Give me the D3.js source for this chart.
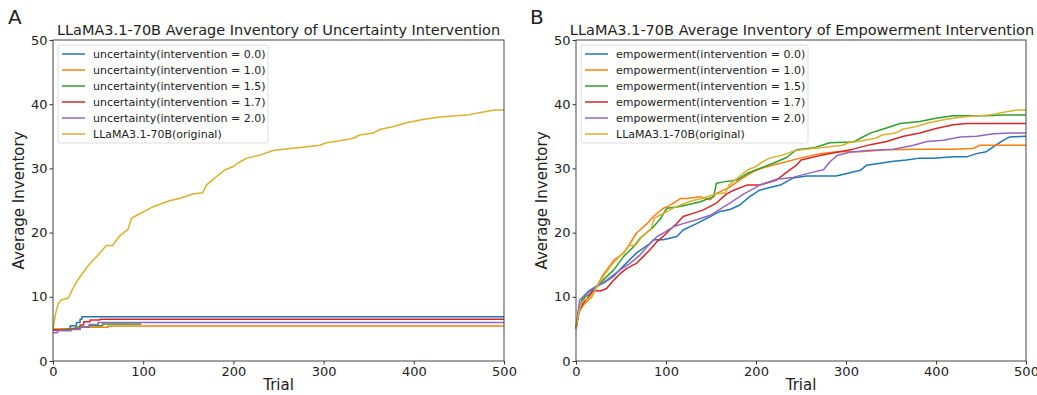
<!DOCTYPE html>
<html>
<head>
<meta charset="utf-8">
<script src="https://cdn.jsdelivr.net/npm/d3@7"></script>
<style>
  body { margin: 0; background: #fff; }
  svg text { font-family: "DejaVu Sans", sans-serif; fill: #222; }
</style>
</head>
<body>
<div id="wrapper"></div>
<script>
// data: [trial, average inventory]
const original = [[0,5],[3,7.5],[6,9],[9,9.5],[17,9.8],[21,11],[26,12.3],[33,13.7],[41,15.2],[52,16.8],[59,18],[66,18],[74,19.5],[83,20.5],[87,22.2],[93,22.7],[104,23.5],[109,23.9],[122,24.6],[130,25],[140,25.3],[155,26],[166,26.2],[170,27.4],[176,28.1],[181,28.7],[191,29.8],[200,30.3],[207,31],[215,31.6],[230,32.1],[244,32.8],[263,33.1],[277,33.3],[296,33.6],[303,34],[318,34.3],[333,34.7],[340,35.2],[355,35.5],[363,36.1],[377,36.5],[392,37.1],[410,37.6],[429,38],[459,38.3],[477,38.8],[490,39.1],[500,39.1]];

const unc00 = [[0,4.9],[10,5.0],[19,5.5],[26,6.0],[30,6.5],[32,6.9],[500,6.9]];
const unc10 = [[0,5.0],[20,5.1],[30,5.25],[61,5.45],[500,5.45]];
const unc15 = [[0,4.8],[15,5.0],[25,5.3],[40,5.5],[55,5.75],[98,5.75]];
const unc17 = [[0,4.8],[20,5.0],[30,5.6],[34,6.1],[41,6.4],[52,6.5],[500,6.5]];
const unc20 = [[0,4.4],[5,4.7],[20,4.9],[30,5.3],[40,5.7],[50,6.0],[500,6.05]];

const emp00 = [[0,5],[3,8],[8,10],[15,11],[22,11.6],[30,12.1],[41,13.1],[52,14.7],[67,16.8],[82,18.3],[86,18.9],[97,18.9],[112,19.4],[119,20.4],[134,21.4],[149,22.5],[160,23.3],[171,23.6],[182,24.3],[193,25.6],[204,26.6],[212,26.9],[227,27.4],[241,28.5],[256,28.8],[289,28.8],[301,29.2],[316,29.7],[323,30.5],[338,30.8],[353,31.1],[367,31.3],[382,31.6],[397,31.6],[419,31.8],[434,31.8],[445,32.3],[456,32.6],[464,33.4],[475,34.4],[482,34.9],[500,35.0]];
const emp10 = [[0,5],[4,8],[10,9],[16,9.8],[23,11.6],[30,13.4],[42,15.7],[53,16.8],[60,18.3],[67,19.9],[79,21.4],[86,22.5],[97,23.8],[104,24.2],[116,25.3],[123,25.3],[138,25.6],[149,25.1],[156,26.1],[170,27],[182,28.2],[197,29.5],[208,30.1],[227,30.8],[249,31.6],[271,32.3],[290,32.6],[316,32.6],[345,32.9],[382,33.0],[419,33.0],[441,33.1],[449,33.6],[500,33.6]];
const emp15 = [[0,5],[4,8.5],[10,10],[16,10.5],[30,12.6],[42,14.2],[53,16.3],[64,17.8],[71,19.1],[86,20.9],[93,22.0],[101,23.8],[112,24.0],[123,24.3],[138,24.8],[153,25.6],[156,27.7],[164,27.9],[179,28.2],[190,29.2],[204,30.0],[219,30.8],[234,31.7],[245,32.9],[264,33.2],[282,34.0],[308,34.1],[316,34.7],[327,35.5],[345,36.3],[360,37.0],[382,37.3],[400,37.8],[419,38.2],[456,38.2],[475,38.3],[500,38.3]];
const emp17 = [[0,5],[3,7.5],[8,9],[14,10],[19,11],[27,10.9],[34,11.3],[42,12.6],[49,13.6],[56,14.4],[67,15.2],[75,16.3],[82,17.3],[90,18.6],[97,19.4],[104,20.4],[112,21.4],[119,22.5],[130,23.0],[141,23.5],[156,24.6],[167,26.0],[175,26.6],[190,27.4],[204,27.4],[223,28.2],[238,29.8],[245,30.5],[250,31.3],[271,32],[290,32.5],[308,33],[327,33.7],[345,34.2],[364,35.0],[382,35.5],[400,36.2],[419,36.8],[434,37.0],[500,37.0]];
const emp20 = [[0,5],[4,9.5],[12,10.5],[23,11.6],[34,12.6],[49,14.2],[60,15.2],[71,16.5],[79,17.8],[90,19.4],[97,19.9],[108,20.9],[119,21.4],[134,22.0],[149,22.7],[164,24.0],[171,24.6],[186,26.0],[197,26.8],[204,27.4],[223,28.3],[241,28.6],[260,29.3],[275,29.8],[282,31.0],[290,32.0],[304,32.5],[323,32.8],[353,33.0],[375,33.6],[390,34.2],[408,34.4],[427,34.9],[445,35.0],[464,35.4],[482,35.5],[500,35.5]];

const levels = ["0.0", "1.0", "1.5", "1.7", "2.0"];
const xTicks = [0, 100, 200, 300, 400, 500];
const yTicks = [0, 10, 20, 30, 40, 50];
const colors = ["#1f77b4", "#ff7f0e", "#2ca02c", "#d62728", "#9467bd", "#d9b12e"];

const panels = [
  { letter: "A", name: "uncertainty", title: "LLaMA3.1-70B Average Inventory of Uncertainty Intervention",
    series: [unc00, unc10, unc15, unc17, unc20, original], left: 53, width: 451, legendW: 210, step: true },
  { letter: "B", name: "empowerment", title: "LLaMA3.1-70B Average Inventory of Empowerment Intervention",
    series: [emp00, emp10, emp15, emp17, emp20, original], left: 576, width: 450, legendW: 227, step: false },
];

const W = 1037, H = 395, plotTop = 40, plotBottom = 361;

const svg = d3.select("#wrapper").append("svg")
  .attr("width", W).attr("height", H);

panels.forEach((p, pi) => {
  const x = d3.scaleLinear().domain([0, 500]).range([0, p.width]);
  const y = d3.scaleLinear().domain([0, 50]).range([plotBottom - plotTop, 0]);

  const g = svg.append("g").attr("transform", `translate(${p.left},${plotTop})`);

  // panel letter
  svg.append("text")
    .attr("x", pi === 0 ? 8 : 530).attr("y", 24)
    .style("font-size", "20px").text(p.letter);

  // lines
  p.series.forEach((s, i) => {
    const line = d3.line()
      .x(d => x(d[0])).y(d => y(d[1]))
      .curve(p.step && i < 5 ? d3.curveStepAfter : d3.curveLinear);
    g.append("path").datum(s)
      .attr("fill", "none").attr("stroke", colors[i])
      .attr("stroke-width", 1.5).attr("stroke-linejoin", "round")
      .attr("d", line);
  });

  // axes
  const xAxis = g.append("g")
    .attr("transform", `translate(0,${plotBottom - plotTop})`)
    .call(d3.axisBottom(x).tickValues(xTicks).tickSize(3.5).tickPadding(2));
  const yAxis = g.append("g")
    .call(d3.axisLeft(y).tickValues(yTicks).tickSize(3.5).tickPadding(2));
  [xAxis, yAxis].forEach(a => {
    a.select(".domain").remove();
    a.selectAll("line").attr("stroke", "#333");
    a.selectAll("text").style("font-size", "13px").attr("fill", "#222")
      .style("font-family", "DejaVu Sans, sans-serif");
  });

  // frame
  g.append("rect").attr("width", p.width).attr("height", plotBottom - plotTop)
    .attr("fill", "none").attr("stroke", "#444").attr("stroke-width", 1);

  // titles and labels
  svg.append("text")
    .attr("x", p.left + p.width / 2 + (pi === 0 ? 0 : 1)).attr("y", 35)
    .attr("text-anchor", "middle").style("font-size", "14.5px").text(p.title);
  svg.append("text")
    .attr("x", p.left + p.width / 2).attr("y", 390)
    .attr("text-anchor", "middle").style("font-size", "15px").text("Trial");
  svg.append("text")
    .attr("transform", `translate(${p.left - 29},${(plotTop + plotBottom) / 2}) rotate(-90)`)
    .attr("text-anchor", "middle").style("font-size", "15px").text("Average Inventory");

  // legend
  const lg = g.append("g").attr("transform", "translate(5,5)");
  lg.append("rect").attr("width", p.legendW).attr("height", 98).attr("rx", 2)
    .attr("fill", "#fff").attr("fill-opacity", 0.8)
    .attr("stroke", "#ddd");
  const labels = levels.map(l => `${p.name}(intervention = ${l})`).concat(["LLaMA3.1-70B(original)"]);
  labels.forEach((t, i) => {
    const yy = 9 + i * 16;
    lg.append("line").attr("x1", 4).attr("x2", 27).attr("y1", yy).attr("y2", yy)
      .attr("stroke", colors[i]).attr("stroke-width", 1.5);
    lg.append("text").attr("x", 35).attr("y", yy + 4)
      .style("font-size", "11px").text(t);
  });
});
</script>
</body>
</html>
